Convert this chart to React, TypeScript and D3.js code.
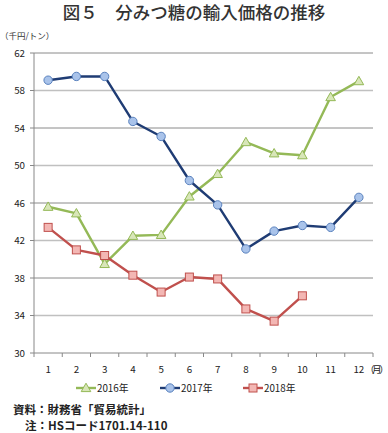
import * as d3 from 'd3';
import React from 'react';

const months = [1, 2, 3, 4, 5, 6, 7, 8, 9, 10, 11, 12];
const yTicks = [30, 34, 38, 42, 46, 50, 54, 58, 62];

const v2016 = [45.6, 44.9, 39.5, 42.5, 42.6, 46.7, 49.1, 52.5, 51.3, 51.1, 57.3, 59.0];
const v2017 = [59.1, 59.5, 59.5, 54.7, 53.1, 48.4, 45.8, 41.1, 43.0, 43.6, 43.4, 46.6];
const v2018 = [43.4, 41.0, 40.4, 38.3, 36.5, 38.1, 37.9, 34.7, 33.4, 36.1];

const series = [
    { name: '2016年', values: v2016, line: '#94b957', fill: '#d8e6b8', stroke: '#94b957', shape: 'tri' },
    { name: '2017年', values: v2017, line: '#1f3c74', fill: '#a9c3ea', stroke: '#5a82be', shape: 'circle' },
    { name: '2018年', values: v2018, line: '#c0504d', fill: '#f3b7b4', stroke: '#c0504d', shape: 'square' },
];

const font = '"Noto Sans CJK JP", "Noto Sans", sans-serif';

function Marker({ shape, x, y, fill, stroke }) {
    if (shape === 'circle') return <circle cx={x} cy={y} r={4.2} fill={fill} stroke={stroke} strokeWidth={1} />;
    if (shape === 'square') return <rect x={x - 4} y={y - 4} width={8} height={8} fill={fill} stroke={stroke} strokeWidth={1} />;
    return <path d={`M${x},${y - 4.8}L${x + 4.8},${y + 3.6}L${x - 4.8},${y + 3.6}Z`} fill={fill} stroke={stroke} strokeWidth={1} />;
}

export default function App() {
    const left = 34, right = 373, top = 53, bottom = 353;

    const x = d3.scaleBand().domain(months.map(String)).range([left, right]);
    const cx = (i) => x(String(months[i])) + x.bandwidth() / 2;
    const y = d3.scaleLinear().domain([30, 62]).range([bottom, top]);

    const legend = [
        { s: series[0], x0: 76 },
        { s: series[1], x0: 160 },
        { s: series[2], x0: 243 },
    ];

    return (
        <svg width={388} height={433} style={{ position: 'absolute', left: 0, top: 0, background: '#fff' }} fontFamily={font}>
            <text x={194} y={19} textAnchor="middle" fontSize={17.5} fontWeight={500} fill="#333">図５　分みつ糖の輸入価格の推移</text>
            <text x={0} y={39} fontSize={8.5} fill="#333">（千円/トン）</text>

            {/* grid */}
            {yTicks.filter(t => t > 30).map((t, i) => (
                <line key={t} x1={left} x2={right} y1={y(t)} y2={y(t)}
                    stroke={i % 2 === 0 ? '#c0c0c0' : '#8a8a8a'} strokeWidth={i % 2 === 0 ? 1.6 : 1} />
            ))}

            {/* axes */}
            <line x1={left} x2={left} y1={top} y2={bottom} stroke="#888" />
            <line x1={left} x2={right} y1={bottom} y2={bottom} stroke="#888" />
            {yTicks.map(t => (
                <g key={t}>
                    <line x1={left - 4} x2={left} y1={y(t)} y2={y(t)} stroke="#888" />
                    <text x={25} y={y(t) + 3.5} textAnchor="end" fontSize={9.8} fill="#222">{t}</text>
                </g>
            ))}
            {months.map((m, i) => (
                <g key={m}>
                    <line x1={x(String(m))} x2={x(String(m))} y1={bottom} y2={bottom + 4} stroke="#888" />
                    <text x={cx(i)} y={373} textAnchor="middle" fontSize={9.8} fill="#222">{m}</text>
                </g>
            ))}
            <line x1={right} x2={right} y1={bottom} y2={bottom + 4} stroke="#888" />
            <text x={365} y={373} fontSize={9.6} letterSpacing={-2.5} fill="#222">（月）</text>

            {/* series */}
            {series.map(s => {
                const line = d3.line().x((d, i) => cx(i)).y(d => y(d));
                return (
                    <g key={s.name}>
                        <path d={line(s.values)} fill="none" stroke={s.line} strokeWidth={2.4} strokeLinejoin="round" />
                        {s.values.map((v, i) => (
                            <Marker key={i} shape={s.shape} x={cx(i)} y={y(v)} fill={s.fill} stroke={s.stroke} />
                        ))}
                    </g>
                );
            })}

            {/* legend */}
            {legend.map(({ s, x0 }) => (
                <g key={s.name}>
                    <line x1={x0} x2={x0 + 20} y1={388} y2={388} stroke={s.line} strokeWidth={2.4} />
                    <Marker shape={s.shape} x={x0 + 10} y={388} fill={s.fill} stroke={s.stroke} />
                    <text x={x0 + 21} y={391.5} fontSize={9.8} fill="#222">{s.name}</text>
                </g>
            ))}

            <text x={13} y={414} fontSize={11.5} fontWeight={600} fill="#222">資料：財務省「貿易統計」</text>
            <text x={25} y={429.5} fontSize={11.5} fontWeight={600} fill="#222">注：HSコード1701.14-110</text>
        </svg>
    );
}
